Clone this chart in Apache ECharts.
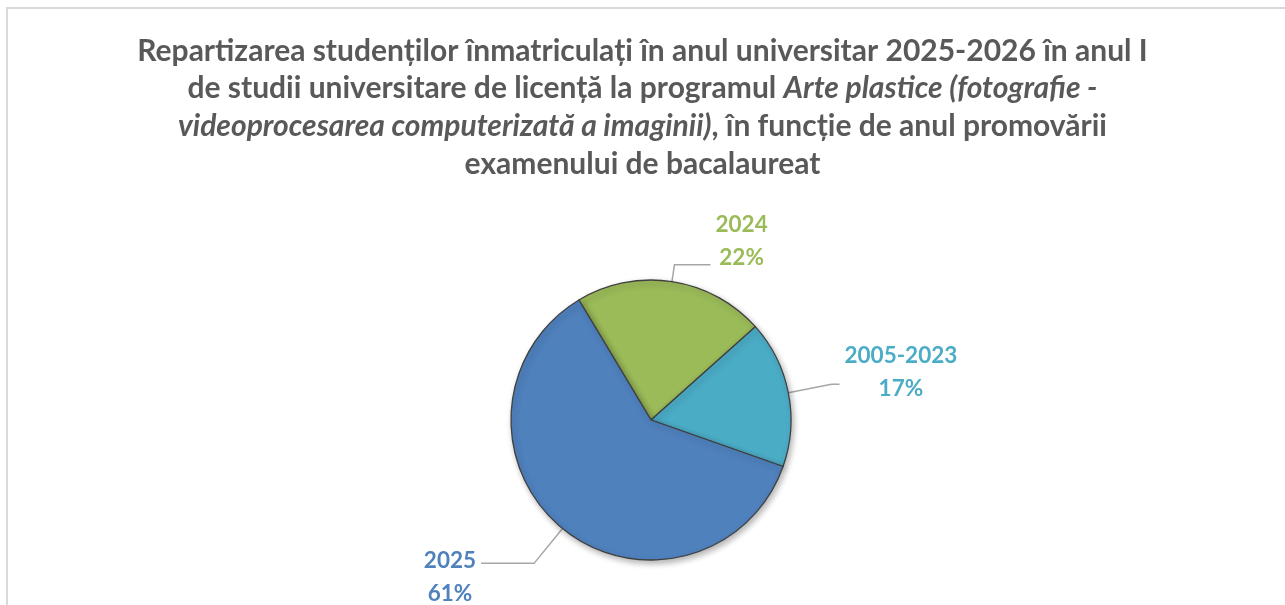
<!DOCTYPE html>
<html>
<head>
<meta charset="utf-8">
<script src="https://cdn.jsdelivr.net/npm/echarts@6/dist/echarts.min.js"></script>
<style>
  html, body { margin: 0; padding: 0; background: #fff; }
  #chart { width: 1285px; height: 605px; }
</style>
</head>
<body>
<div id="chart"></div>
<script>
// anul promovarii bacalaureatului -> procent studenti
var categories = ['2024', '2005-2023', '2025'];
var shares = [22, 17, 61];
var palette = ['#9BBB59', '#4BACC6', '#4F81BD'];

var titleLines = [
  '{b|Repartizarea studenților înmatriculați în anul universitar 2025-2026 în anul I}',
  '{b|de studii universitare de licență la programul }{i|Arte plastice (fotografie -}',
  '{i|videoprocesarea computerizată a imaginii)}{b|, în funcție de anul promovării}',
  '{b|examenului de bacalaureat}'
];

var font = 'Lato, "Open Sans", sans-serif';

function labelFor(i, pad) {
  return {
    color: palette[i],
    padding: pad,
    rich: {
      t: { fontFamily: font, fontSize: 22.5, fontWeight: 'bold', color: palette[i], lineHeight: 33, align: 'center' }
    }
  };
}

// label line lengths per slice (radial part, horizontal part) and text shift
var lineLen = [17, 44, 45];
var lineLen2 = [36, 8, 53];
var pads = [[0, 0, 48, 0], [0, 0, 24, 0], [28, 0, 0, 0]];

var data = categories.map(function (c, i) {
  return {
    name: c,
    value: shares[i],
    itemStyle: { color: palette[i] },
    label: labelFor(i, pads[i]),
    labelLine: { length: lineLen[i], length2: lineLen2[i] }
  };
});

var chart = echarts.init(document.getElementById('chart'));
chart.setOption({
  animation: false,
  title: {
    text: titleLines.join('\n'),
    left: 'center',
    top: 27,
    textStyle: {
      rich: {
        b: { fontFamily: font, fontSize: 30, fontWeight: 'bold', color: '#595959', lineHeight: 37.7, align: 'center' },
        i: { fontFamily: font, fontSize: 30, fontWeight: 'bold', fontStyle: 'italic', color: '#595959', lineHeight: 37.7, align: 'center' }
      }
    }
  },
  graphic: [{
    type: 'rect',
    shape: { x: 7, y: 8, width: 1300, height: 700 },
    style: { fill: 'none', stroke: '#d9d9d9', lineWidth: 2 },
    silent: true
  }],
  series: [{
    type: 'pie',
    center: [651, 420],
    radius: 140,
    startAngle: 121,
    clockwise: true,
    avoidLabelOverlap: false,
    itemStyle: {
      borderColor: '#404040',
      borderWidth: 1.3,
      shadowBlur: 6,
      shadowOffsetX: 2,
      shadowOffsetY: 3,
      shadowColor: 'rgba(0,0,0,0.3)'
    },
    label: {
      show: true,
      position: 'outside',
      formatter: function (p) {
        return '{t|' + p.name + '}\n{t|' + Math.round(p.percent) + '%}';
      }
    },
    labelLine: {
      show: true,
      lineStyle: { color: '#A6A6A6', width: 1.5 }
    },
    emphasis: { disabled: true },
    data: data
  }]
});
</script>
</body>
</html>
